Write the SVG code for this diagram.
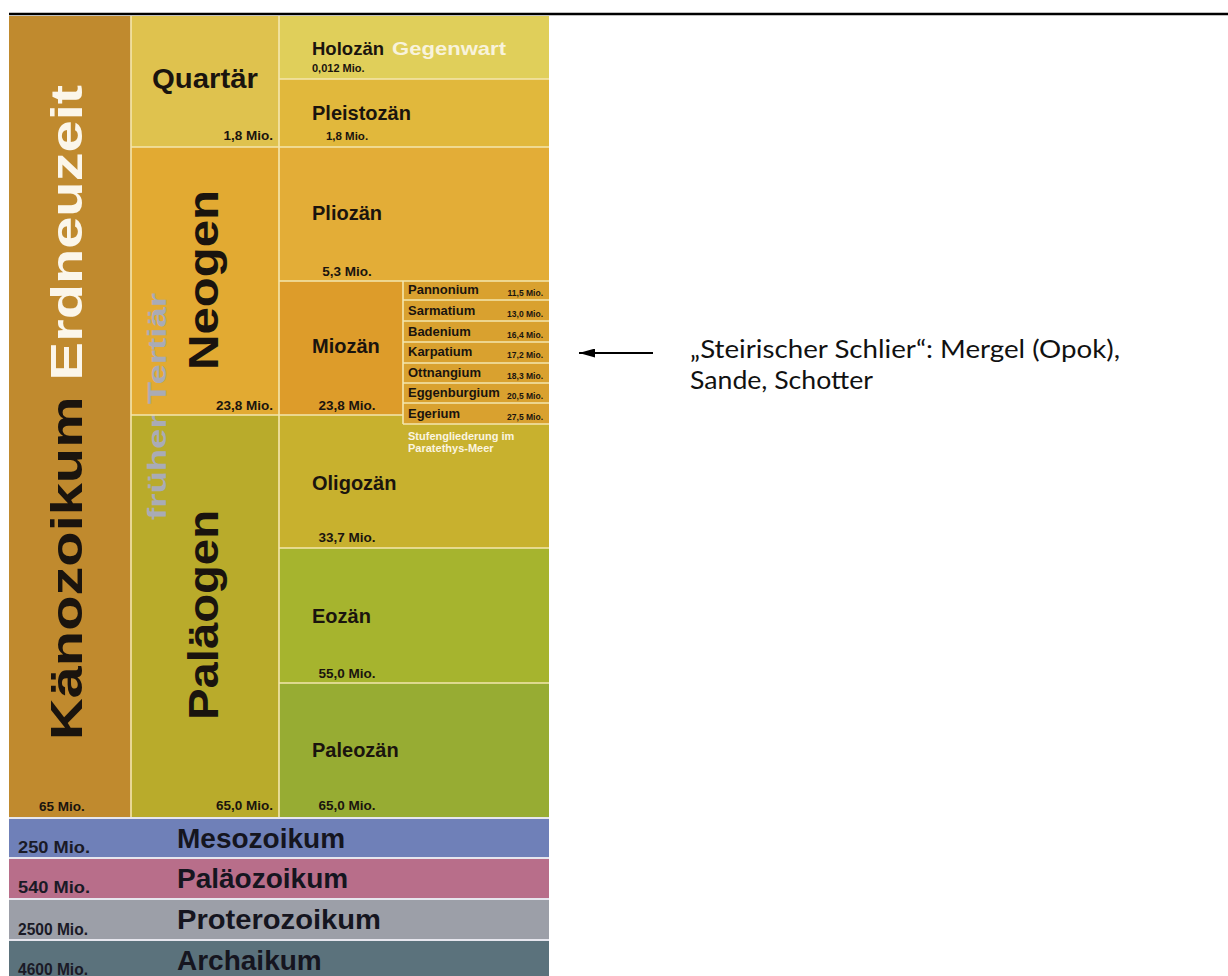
<svg xmlns="http://www.w3.org/2000/svg" width="1228" height="976" viewBox="0 0 1228 976">
<defs>
<style>
.b{font-family:"Liberation Sans",Arial,sans-serif;font-weight:bold;fill:#1a140e}
.ep{font-size:20px}
.dt{font-size:13.5px}
.st{font-size:13px}
.sd{font-size:8.5px;text-anchor:end}
.bd{font-size:28px;fill:#15151f}
.bdt{font-size:16.5px;fill:#1a1a26}
.div{stroke:#f4e6ae;stroke-width:1.6;fill:none}
.bdiv{stroke:#e6e6ee;stroke-width:2;fill:none}
.note{font-family:Lato,"Open Sans","Liberation Sans",sans-serif;font-size:25px;fill:#111}
</style>
<marker id="ah" viewBox="0 0 16 9" refX="16" refY="4.5" markerWidth="16" markerHeight="9" markerUnits="userSpaceOnUse" orient="auto">
<path d="M0,0 L16,4.5 L0,9 Z" fill="#000"/>
</marker>
</defs>
<rect width="1228" height="976" fill="#fff"/>
<line x1="9" y1="14" x2="1228" y2="14" stroke="#000" stroke-width="2.5"/>

<g id="kaenozoikum">
<rect x="9" y="16" width="122" height="802" fill="#c08a2e"/>
<text class="b" transform="translate(82,740) rotate(-90)" font-size="44" textLength="655" lengthAdjust="spacingAndGlyphs"><tspan fill="#1a140e">Känozoikum </tspan><tspan fill="#fbf6ea">Erdneuzeit</tspan></text>
<text class="b dt" x="39" y="811">65 Mio.</text>
</g>

<g id="quartaer">
<rect x="131" y="16" width="148" height="131" fill="#dfc24e"/>
<text class="b" x="152" y="88" font-size="27" textLength="106" lengthAdjust="spacingAndGlyphs">Quartär</text>
<text class="b dt" x="273" y="140" text-anchor="end">1,8 Mio.</text>
</g>

<g id="neogen">
<rect x="131" y="147" width="148" height="268" fill="#e2aa32"/>
<text class="b" transform="translate(218,370) rotate(-90)" font-size="42" textLength="180" lengthAdjust="spacingAndGlyphs">Neogen</text>
<text class="b dt" x="273" y="410" text-anchor="end">23,8 Mio.</text>
</g>

<g id="palaeogen">
<rect x="131" y="415" width="148" height="403" fill="#b9ab2b"/>
<text class="b" transform="translate(218,720) rotate(-90)" font-size="42" textLength="210" lengthAdjust="spacingAndGlyphs">Paläogen</text>
<text class="b dt" x="273" y="810" text-anchor="end">65,0 Mio.</text>
</g>

<g id="tertiaer">
<text class="b" transform="translate(166,520) rotate(-90)" font-size="26" textLength="227" lengthAdjust="spacingAndGlyphs" style="fill:#a9abb6">früher Tertiär</text>
</g>

<g id="holozaen">
<rect x="279" y="16" width="270" height="63" fill="#e0cf5a"/>
<text class="b" x="312" y="55" font-size="19" textLength="72" lengthAdjust="spacingAndGlyphs">Holozän</text>
<text class="b" x="392" y="55" font-size="19" textLength="114" lengthAdjust="spacingAndGlyphs" style="fill:#f8f3dc">Gegenwart</text>
<text class="b" x="312" y="72" font-size="11">0,012 Mio.</text>
</g>

<g id="pleistozaen">
<rect x="279" y="79" width="270" height="68" fill="#e1b83c"/>
<text class="b ep" x="312" y="120">Pleistozän</text>
<text class="b" x="347" y="140" font-size="11.5" text-anchor="middle">1,8 Mio.</text>
</g>

<g id="pliozaen">
<rect x="279" y="147" width="270" height="134" fill="#e3ad37"/>
<text class="b ep" x="312" y="220">Pliozän</text>
<text class="b dt" x="347" y="276" text-anchor="middle">5,3 Mio.</text>
</g>

<g id="oligozaen">
<rect x="279" y="415" width="270" height="133" fill="#c8b12e"/>
<text class="b ep" x="312" y="490">Oligozän</text>
<text class="b dt" x="347" y="542" text-anchor="middle">33,7 Mio.</text>
<text class="b" x="408" y="440" font-size="11" style="fill:#fbf5e0">Stufengliederung im</text>
<text class="b" x="408" y="452" font-size="11" style="fill:#fbf5e0">Paratethys-Meer</text>
</g>

<g id="miozaen">
<rect x="279" y="281" width="124" height="134" fill="#dd9c2a"/>
<text class="b ep" x="312" y="353">Miozän</text>
<text class="b dt" x="347" y="410" text-anchor="middle">23,8 Mio.</text>
</g>

<g id="stufen">
<rect x="403" y="281" width="146" height="143" fill="#d9a12f"/>
<text class="b st" x="408" y="294">Pannonium</text><text class="b sd" x="543" y="296">11,5 Mio.</text>
<text class="b st" x="408" y="315">Sarmatium</text><text class="b sd" x="543" y="317">13,0 Mio.</text>
<text class="b st" x="408" y="336">Badenium</text><text class="b sd" x="543" y="338">16,4 Mio.</text>
<text class="b st" x="408" y="356">Karpatium</text><text class="b sd" x="543" y="358">17,2 Mio.</text>
<text class="b st" x="408" y="377">Ottnangium</text><text class="b sd" x="543" y="379">18,3 Mio.</text>
<text class="b st" x="408" y="397">Eggenburgium</text><text class="b sd" x="543" y="399">20,5 Mio.</text>
<text class="b st" x="408" y="418">Egerium</text><text class="b sd" x="543" y="420">27,5 Mio.</text>
</g>

<g id="eozaen">
<rect x="279" y="548" width="270" height="135" fill="#a6b42e"/>
<text class="b ep" x="312" y="623">Eozän</text>
<text class="b dt" x="347" y="678" text-anchor="middle">55,0 Mio.</text>
</g>

<g id="paleozaen">
<rect x="279" y="683" width="270" height="135" fill="#97ac33"/>
<text class="b ep" x="312" y="757">Paleozän</text>
<text class="b dt" x="347" y="810" text-anchor="middle">65,0 Mio.</text>
</g>

<g id="mesozoikum">
<rect x="9" y="818" width="540" height="40" fill="#6f80b8"/>
<text class="b bd" x="177" y="848">Mesozoikum</text>
<text class="b bdt" x="18" y="853" textLength="72" lengthAdjust="spacingAndGlyphs">250 Mio.</text>
</g>
<g id="palaeozoikum">
<rect x="9" y="858" width="540" height="41" fill="#b86e8a"/>
<text class="b bd" x="177" y="888">Paläozoikum</text>
<text class="b bdt" x="18" y="893" textLength="72" lengthAdjust="spacingAndGlyphs">540 Mio.</text>
</g>
<g id="proterozoikum">
<rect x="9" y="899" width="540" height="41" fill="#9c9fa8"/>
<text class="b bd" x="177" y="929" textLength="204" lengthAdjust="spacingAndGlyphs">Proterozoikum</text>
<text class="b bdt" x="18" y="935" textLength="70" lengthAdjust="spacingAndGlyphs">2500 Mio.</text>
</g>
<g id="archaikum">
<rect x="9" y="940" width="540" height="36" fill="#5b727c"/>
<text class="b bd" x="177" y="970">Archaikum</text>
<text class="b bdt" x="18" y="975" textLength="70" lengthAdjust="spacingAndGlyphs">4600 Mio.</text>
</g>

<g id="dividers">
<path class="div" d="M131,16V818 M279,16V818 M131,147H279 M131,415H279 M279,79H549 M279,147H549 M279,281H549 M279,415H403 M279,548H549 M279,683H549 M403,281V424 M403,300H549 M403,321H549 M403,342H549 M403,363H549 M403,383H549 M403,403H549 M403,424H549"/>
<path class="bdiv" d="M9,818H549 M9,858H549 M9,899H549 M9,940H549"/>
</g>

<g id="note">
<text class="note" x="690" y="358" textLength="430" lengthAdjust="spacingAndGlyphs">„Steirischer Schlier“: Mergel (Opok),</text>
<text class="note" x="690" y="389" textLength="183" lengthAdjust="spacingAndGlyphs">Sande, Schotter</text>
</g>

<g id="connectors">
<line x1="653" y1="353" x2="579" y2="353" stroke="#000" stroke-width="2" marker-end="url(#ah)"/>
</g>
</svg>
